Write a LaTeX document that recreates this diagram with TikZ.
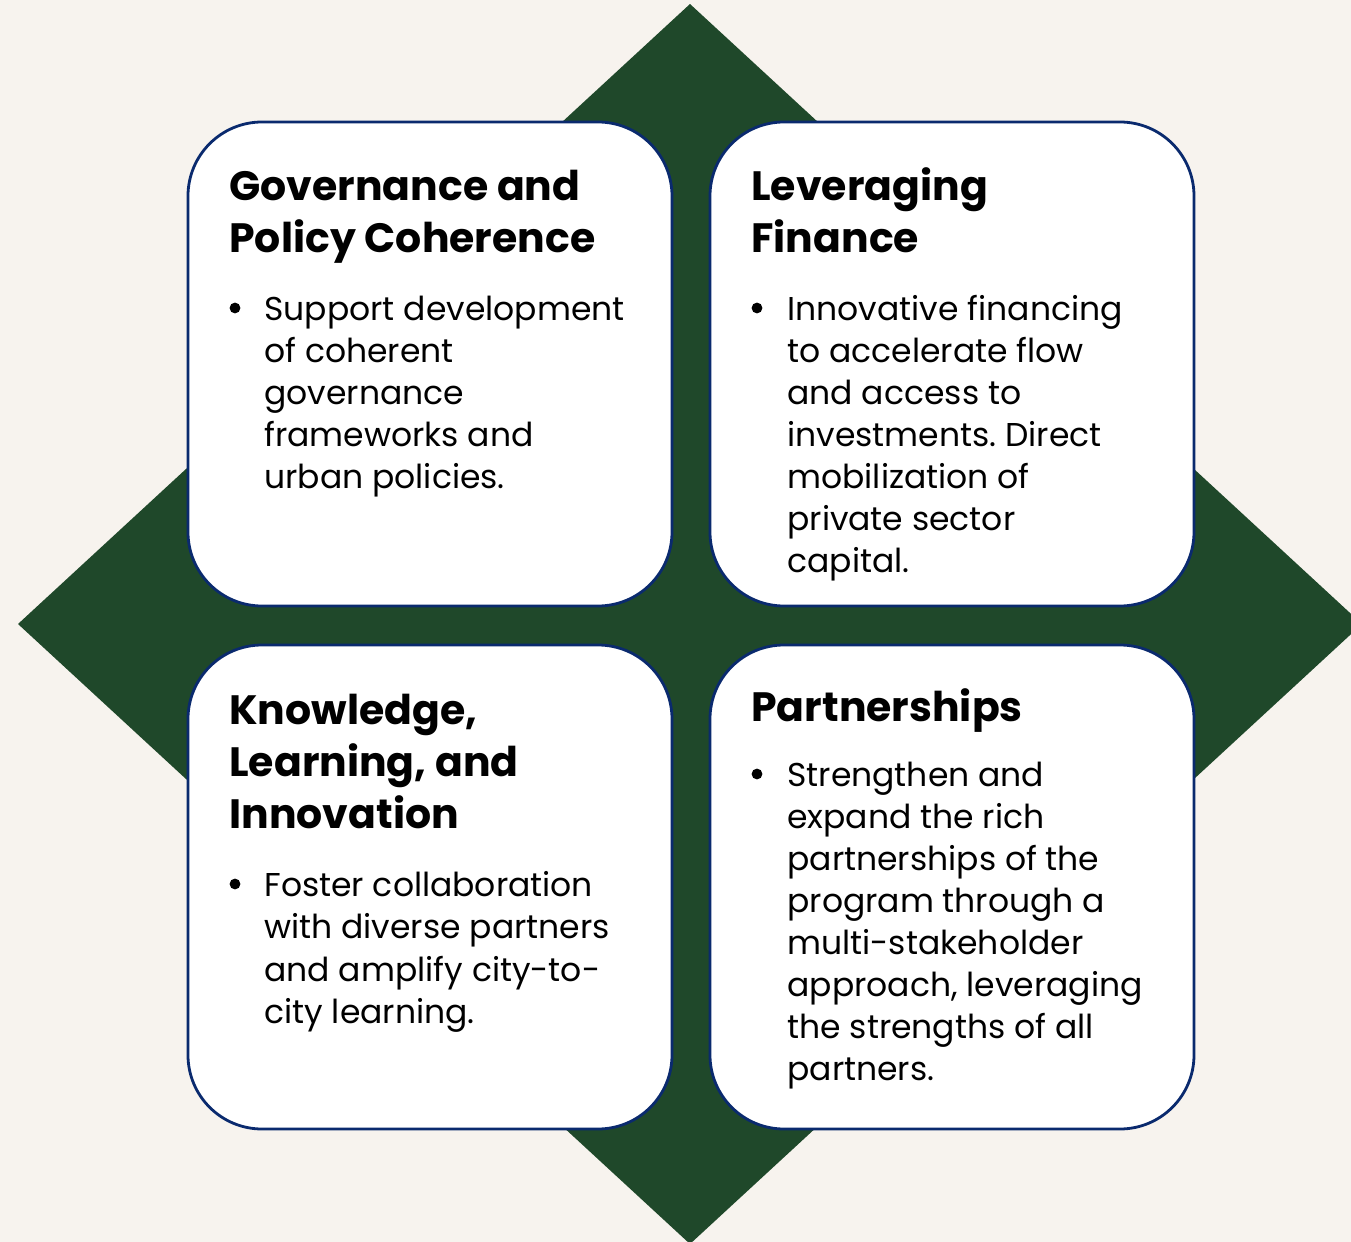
\documentclass[tikz,border=0pt]{standalone}
\usepackage{fontspec}
\setmainfont{Poppins}
\frenchspacing

\definecolor{bgcream}{HTML}{F7F3EE}
\definecolor{pine}{HTML}{1F482A}
\definecolor{navy}{HTML}{0A2A6E}

\tikzset{
  card/.style={draw=navy, line width=1.4pt, fill=white, rounded corners=37pt,
    minimum width=242pt, minimum height=242pt, inner sep=0pt},
  head/.style={anchor=base west, inner sep=0pt, font=\fontsize{20.5}{24}\selectfont\bfseries},
  body/.style={anchor=base west, inner sep=0pt, font=\fontsize{16.5}{21}\selectfont},
  dot/.style={circle, fill=black, inner sep=0pt, minimum size=5.4pt},
}

\begin{document}
\begin{tikzpicture}[x=0.5pt, y=-0.5pt]
			\useasboundingbox (0, 0) rectangle (1351, 1242);
			\fill[bgcream] (0, 0) rectangle (1351, 1242);
			\clip (0, 0) rectangle (1351, 1242);
			\fill[pine] (690, 4) -- (1362, 624) -- (690, 1244) -- (18, 624) -- cycle;

			% the four cards
			\node[card] (gov) at (430, 364) {};
			\node[card] (fin) at (952, 364) {};
			\node[card] (know) at (430, 887) {};
			\node[card] (part) at (952, 887) {};

			% governance
			\foreach \t [count=\i from 0] in {Governance and, Policy Coherence}
				\node[head] (gov-h\i) at (229, 200+52*\i) {\t};
			\node[dot] (gov-dot) at (235, 308) {};
			\foreach \t [count=\i from 0] in {Support development, of coherent, governance, frameworks and, urban policies.}
				\node[body] (gov-b\i) at (264, 320+42*\i) {\t};

			% finance
			\foreach \t [count=\i from 0] in {Leveraging, Finance}
				\node[head] (fin-h\i) at (751, 200+52*\i) {\t};
			\node[dot] (fin-dot) at (757, 308) {};
			\foreach \t [count=\i from 0] in {Innovative financing, to accelerate flow, and access to, investments. Direct, mobilization of, private sector, capital.}
				\node[body] (fin-b\i) at (787, 320+42*\i) {\t};

			% knowledge
			\foreach \t [count=\i from 0] in {{Knowledge,}, {Learning, and}, Innovation}
				\node[head] (know-h\i) at (229, 724+52*\i) {\t};
			\node[dot] (know-dot) at (235, 884) {};
			\foreach \t [count=\i from 0] in {Foster collaboration, with diverse partners, and amplify city-to-, city learning.}
				\node[body] (know-b\i) at (264, 896+42.5*\i) {\t};

			% partnerships
			\node[head] (part-h0) at (751, 721) {Partnerships};
			\node[dot] (part-dot) at (757, 774) {};
			\foreach \t [count=\i from 0] in {Strengthen and, expand the rich, partnerships of the, program through a, multi-stakeholder, {approach, leveraging}, the strengths of all, partners.}
				\node[body] (part-b\i) at (787, 786+42*\i) {\t};
		\end{tikzpicture}
\end{document}
